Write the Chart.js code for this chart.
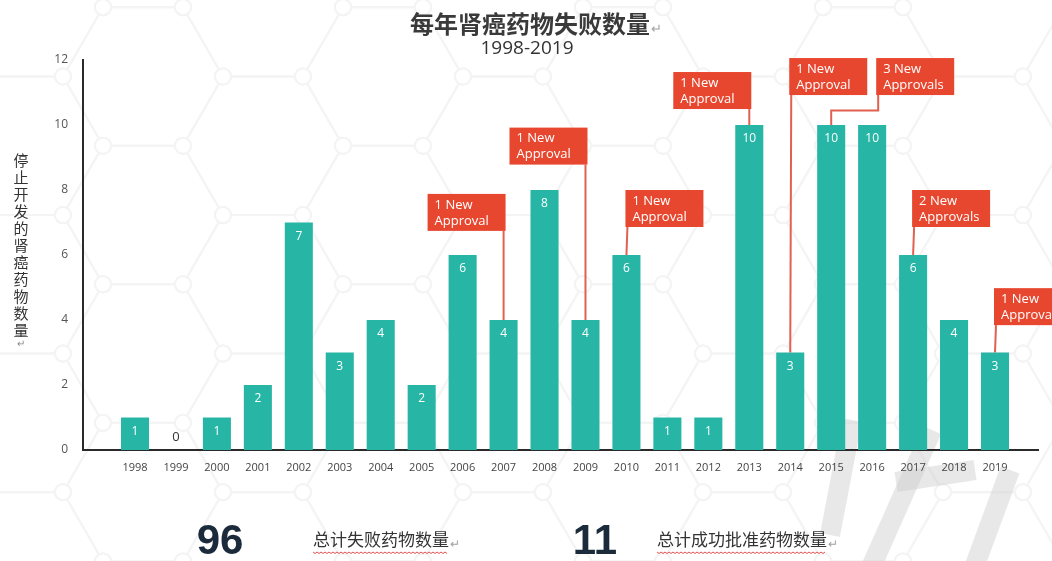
<!DOCTYPE html>
<html>
<head>
<meta charset="utf-8">
<script src="https://cdn.jsdelivr.net/npm/chart.js@4/dist/chart.umd.min.js"></script>
<style>
  html, body { margin: 0; padding: 0; background: #ffffff; }
  #wrap { width: 1052px; height: 561px; position: relative; }
</style>
</head>
<body>
<div id="wrap"><canvas id="c" width="1052" height="561"></canvas></div>
<script>
// Kidney cancer drugs whose development stopped, per year
const years = ['1998','1999','2000','2001','2002','2003','2004','2005','2006','2007','2008',
               '2009','2010','2011','2012','2013','2014','2015','2016','2017','2018','2019'];
const failures  = [1, 0, 1, 2, 7, 3, 4, 2, 6, 4, 8, 4, 6, 1, 1, 10, 3, 10, 10, 6, 4, 3];
// New approvals per year
const approvals = [0, 0, 0, 0, 0, 0, 0, 0, 0, 1, 0, 1, 1, 0, 0, 1, 1, 3, 0, 2, 0, 1];
const yTicks = [0, 2, 4, 6, 8, 10, 12];

const titleText = '每年肾癌药物失败数量';
const subtitleText = '1998-2019';
const yTitleText = '停止开发的肾癌药物数量';
const failTotalLabel = '总计失败药物数量';
const approveTotalLabel = '总计成功批准药物数量';

// Where each approval flag sits: top of the flag (in y units), which edge carries the pole,
// and an optional sideways shift with an elbow height for the pole.
const flagLayout = {
  '2007': { top: 7.88,  pole: 'right' },
  '2009': { top: 9.92,  pole: 'right' },
  '2010': { top: 8.0,   pole: 'left' },
  '2013': { top: 11.63, pole: 'right' },
  '2014': { top: 12.06, pole: 'left' },
  '2015': { top: 12.06, pole: 'left', shift: 46, elbow: 10.45 },
  '2017': { top: 8.0,   pole: 'left' },
  '2019': { top: 4.98,  pole: 'left' }
};

const TEAL = '#27b5a6';
const FLAG = '#e8472f';
const POLE = '#e2604f';
const LATIN = '"Open Sans", "Liberation Sans", sans-serif';
const CJK = '"Noto Sans CJK SC", sans-serif';

// Faint honeycomb network and a pale watermark behind the chart
const backdrop = {
  id: 'backdrop',
  beforeDraw(chart) {
    const ctx = chart.ctx;
    ctx.save();
    ctx.fillStyle = '#ffffff';
    ctx.fillRect(0, 0, chart.width, chart.height);
    const a = 80, h = a * Math.sqrt(3) / 2;
    ctx.strokeStyle = '#f4f4f4';
    ctx.lineWidth = 2;
    const verts = [];
    for (let i = -3; i < 10; i++) {
      for (let j = -3; j < 6; j++) {
        const cx = 263 + 1.5 * a * i;
        const cy = 284.3 + 2 * h * j + (Math.abs(i) % 2 ? h : 0);
        ctx.beginPath();
        for (let k = 0; k <= 6; k++) {
          const ang = Math.PI / 3 * k;
          const px = cx + a * Math.cos(ang), py = cy + a * Math.sin(ang);
          if (k === 0) ctx.moveTo(px, py); else ctx.lineTo(px, py);
          if (k < 6) verts.push([px, py]);
        }
        ctx.stroke();
      }
    }
    for (const [px, py] of verts) {
      ctx.beginPath();
      ctx.arc(px, py, 8, 0, Math.PI * 2);
      ctx.fillStyle = '#ffffff';
      ctx.fill();
      ctx.stroke();
    }
    // watermark strokes
    ctx.strokeStyle = 'rgba(205,205,205,0.45)';
    ctx.lineCap = 'butt';
    ctx.lineWidth = 20;
    const strokes = [
      [[852, 420], [830, 535]],
      [[932, 430], [872, 565]],
      [[896, 482], [975, 470]],
      [[1010, 470], [975, 565]]
    ];
    for (const s of strokes) {
      ctx.beginPath();
      ctx.moveTo(s[0][0], s[0][1]);
      ctx.lineTo(s[1][0], s[1][1]);
      ctx.stroke();
    }
    ctx.restore();
  }
};

// Text blocks, bar value labels and approval flags
const overlay = {
  id: 'overlay',
  afterDraw(chart) {
    const ctx = chart.ctx;
    const xs = chart.scales.x, ys = chart.scales.y;
    const bars = chart.getDatasetMeta(0).data;
    ctx.save();

    // title
    ctx.textBaseline = 'middle';
    ctx.textAlign = 'left';
    ctx.font = 'bold 24px ' + CJK;
    ctx.fillStyle = '#3a3a3a';
    const tw = ctx.measureText(titleText).width;
    const tx = 530 - tw / 2;
    ctx.fillText(titleText, tx, 24);
    ctx.font = '13px ' + CJK;
    ctx.fillStyle = '#a0a0a0';
    ctx.fillText('↵', tx + tw + 1, 28);

    ctx.textAlign = 'center';
    ctx.font = '19px ' + LATIN;
    ctx.fillStyle = '#333333';
    ctx.fillText(subtitleText, 527, 49);

    // vertical y-axis title, one character per line
    ctx.font = '15px ' + CJK;
    ctx.fillStyle = '#333333';
    const chars = Array.from(yTitleText);
    chars.forEach((ch, i) => ctx.fillText(ch, 21, 160 + i * 17));
    ctx.font = '10px ' + CJK;
    ctx.fillStyle = '#888888';
    ctx.fillText('↵', 21, 160 + chars.length * 17 - 4);

    // values on bars
    bars.forEach((bar, i) => {
      if (failures[i] > 0) {
        ctx.font = '12px ' + LATIN;
        ctx.fillStyle = '#ffffff';
        ctx.fillText(String(failures[i]), bar.x, bar.y + 14);
      } else {
        ctx.font = '13px ' + LATIN;
        ctx.fillStyle = '#333333';
        ctx.fillText(String(failures[i]), bar.x, bar.base - 13);
      }
    });

    // approval flags
    const fw = 78, fh = 37;
    approvals.forEach((n, i) => {
      if (!n) return;
      const lay = flagLayout[years[i]];
      if (!lay) return;
      const cx = xs.getPixelForValue(i);
      const top = ys.getPixelForValue(lay.top);
      const barTop = bars[i].y;
      let left, poleX;
      if (lay.pole === 'right') { left = cx - fw + 2; poleX = cx; }
      else { left = cx - 1 + (lay.shift || 0); poleX = left + 2; }
      ctx.strokeStyle = POLE;
      ctx.lineWidth = 2;
      ctx.beginPath();
      ctx.moveTo(poleX, top + fh);
      if (lay.elbow !== undefined) {
        const ey = ys.getPixelForValue(lay.elbow);
        ctx.lineTo(poleX, ey);
        ctx.lineTo(cx, ey);
      }
      ctx.lineTo(cx, barTop);
      ctx.stroke();
      ctx.fillStyle = FLAG;
      ctx.fillRect(left, top, fw, fh);
      ctx.fillStyle = '#ffffff';
      ctx.textAlign = 'left';
      ctx.font = '13px ' + LATIN;
      ctx.fillText(n + ' New', left + 7, top + 11);
      ctx.fillText(n === 1 ? 'Approval' : 'Approvals', left + 7, top + 27);
      ctx.textAlign = 'center';
    });

    // totals below the axis
    const failSum = failures.reduce((s, v) => s + v, 0);
    const apprSum = approvals.reduce((s, v) => s + v, 0);
    ctx.textAlign = 'center';
    ctx.font = 'bold 42px "Liberation Sans", sans-serif';
    ctx.fillStyle = '#1c2b3b';
    ctx.fillText(String(failSum), 220, 542);
    ctx.fillText(String(apprSum), 595, 542);

    const caption = (text, x) => {
      ctx.textAlign = 'left';
      ctx.font = '17px ' + CJK;
      ctx.fillStyle = '#333333';
      ctx.fillText(text, x, 540);
      const w = ctx.measureText(text).width;
      ctx.font = '12px ' + CJK;
      ctx.fillStyle = '#a0a0a0';
      ctx.fillText('↵', x + w + 1, 543);
      // wavy underline
      ctx.strokeStyle = '#e05050';
      ctx.lineWidth = 1;
      ctx.beginPath();
      for (let px = x; px <= x + w; px += 2) {
        const py = 552 + ((px - x) % 4 === 0 ? 0 : 1.5);
        if (px === x) ctx.moveTo(px, py); else ctx.lineTo(px, py);
      }
      ctx.stroke();
    };
    caption(failTotalLabel, 313);
    caption(approveTotalLabel, 657);

    ctx.restore();
  }
};

new Chart(document.getElementById('c'), {
  type: 'bar',
  data: {
    datasets: [{
      data: failures.map((v, i) => ({ x: i, y: v })),
      backgroundColor: TEAL,
      borderWidth: 0,
      barPercentage: 0.685,
      categoryPercentage: 1.0
    }]
  },
  options: {
    responsive: false,
    animation: false,
    devicePixelRatio: 1,
    layout: { padding: { top: 60, right: 14, bottom: 0, left: 0 } },
    plugins: {
      legend: { display: false },
      tooltip: { enabled: false },
      title: { display: false }
    },
    scales: {
      x: {
        type: 'linear',
        min: -1.27,
        max: 22.05,
        bounds: 'data',
        offset: false,
        grid: { display: false, drawTicks: false, offset: false },
        border: { display: true, color: '#2a2a2a', width: 2 },
        afterBuildTicks: (scale) => { scale.ticks = years.map((_, i) => ({ value: i })); },
        afterFit: (scale) => { scale.height = 111; },
        ticks: {
          autoSkip: false,
          maxRotation: 0,
          padding: 11,
          color: '#444444',
          font: { family: LATIN, size: 11 },
          callback: (v) => years[Math.round(v)]
        }
      },
      y: {
        min: 0,
        max: 12,
        grid: { display: false, drawTicks: false },
        border: { display: true, color: '#2a2a2a', width: 2 },
        afterBuildTicks: (scale) => { scale.ticks = yTicks.map(v => ({ value: v })); },
        afterFit: (scale) => { scale.width = 83; },
        ticks: {
          padding: 15,
          color: '#555555',
          font: { family: LATIN, size: 12 }
        }
      }
    }
  },
  plugins: [backdrop, overlay]
});
</script>
</body>
</html>
